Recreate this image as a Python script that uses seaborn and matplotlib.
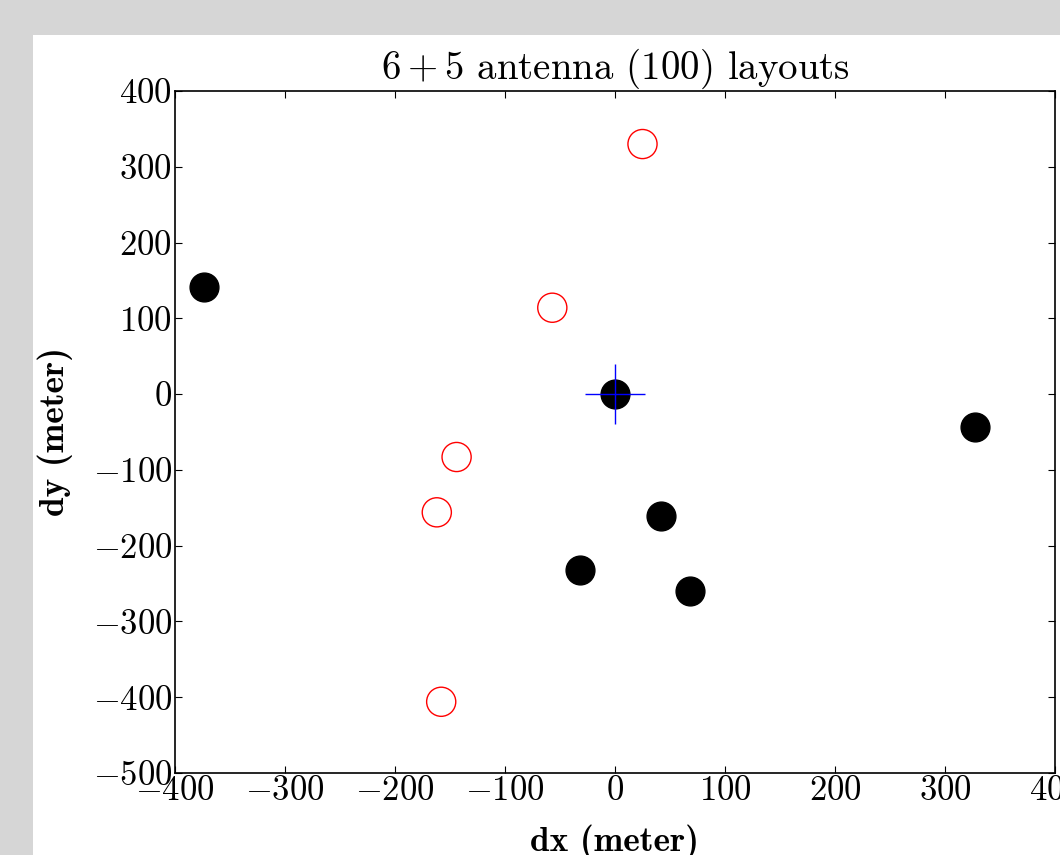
import matplotlib
matplotlib.use('Agg')
import matplotlib.pyplot as plt
from matplotlib.patches import Rectangle
import seaborn as sns

# antenna offsets (meters)
black_dx = [-374, 0, 327, 42, -32, 68]
black_dy = [142, 0, -43, -161, -232, -260]
red_dx = [25, -57, -144, -162, -158]
red_dy = [330, 114, -83, -156, -406]
center_dx = [0]
center_dy = [0]

xticks = [-400, -300, -200, -100, 0, 100, 200, 300, 400]
yticks = [-500, -400, -300, -200, -100, 0, 100, 200, 300, 400]

sns.set_style('ticks')
plt.rcParams['font.family'] = 'serif'
plt.rcParams['font.serif'] = ['cmr10', 'DejaVu Serif']
plt.rcParams['mathtext.fontset'] = 'cm'
plt.rcParams['axes.formatter.use_mathtext'] = True
plt.rcParams['xtick.direction'] = 'in'
plt.rcParams['ytick.direction'] = 'in'
plt.rcParams['xtick.top'] = True
plt.rcParams['ytick.right'] = True
plt.rcParams['text.color'] = 'black'
plt.rcParams['axes.labelcolor'] = 'black'
plt.rcParams['xtick.color'] = 'black'
plt.rcParams['ytick.color'] = 'black'

W, H = 1060, 855
fig = plt.figure(figsize=(W / 100, H / 100), dpi=100, facecolor='#d6d6d6')
fig.add_artist(Rectangle((33 / W, 0), 1, (H - 35) / H, transform=fig.transFigure,
                         facecolor='white', edgecolor='none', zorder=-1))

ax = fig.add_axes([175 / W, (H - 773) / H, (1055 - 175) / W, (773 - 91) / H])
ax.set_facecolor('white')

sns.scatterplot(x=black_dx, y=black_dy, ax=ax, s=430, color='black',
                edgecolor='black', linewidth=1, zorder=2)
sns.scatterplot(x=red_dx, y=red_dy, ax=ax, s=440, facecolors='none',
                edgecolor='red', linewidth=1, zorder=2)
sns.scatterplot(x=center_dx, y=center_dy, ax=ax, marker='+', s=1850,
                color='blue', linewidth=1, zorder=3)

ax.set_xlim(-400, 400)
ax.set_ylim(-500, 400)
ax.set_xticks(xticks)
ax.set_yticks(yticks)
ax.tick_params(labelsize=25, length=5, width=0.8, color='black', pad=2)
for sp in ax.spines.values():
    sp.set_linewidth(1.2)
    sp.set_color('black')

ax.set_title('$6+5$ antenna (100) layouts', fontsize=28, pad=3)
ax.set_xlabel('dx (meter)', fontsize=25.5, fontfamily='cmb10', labelpad=12)
ax.set_ylabel('dy (meter)', fontsize=25.5, fontfamily='cmb10', labelpad=14)

fig.savefig('out.png', dpi=100, facecolor=fig.get_facecolor())
